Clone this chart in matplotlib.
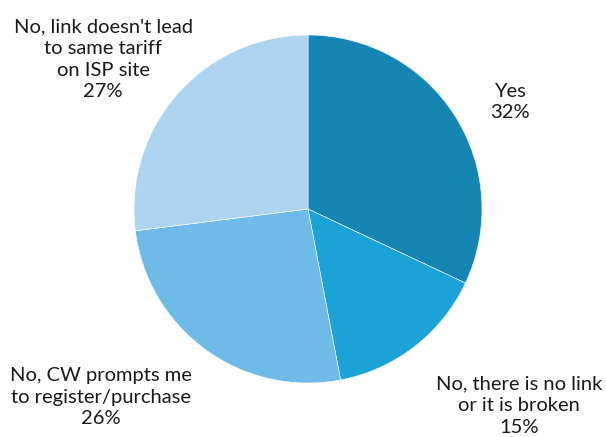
import matplotlib
matplotlib.use("Agg")
import matplotlib.pyplot as plt

# Survey answers, clockwise from the top
categories = [
    "Yes",
    "No, there is no link\nor it is broken",
    "No, CW prompts me\nto register/purchase",
    "No, link doesn't lead\nto same tariff\non ISP site",
]
shares = [32, 15, 26, 27]
colors = ["#1586b4", "#1ba3d8", "#6dbbe6", "#aed5ef"]

# label anchor points in pie units (radius = 1)
label_pos = [(1.161, 0.615), (1.215, -1.130), (-1.19, -1.083), (-1.178, 0.859)]

plt.rcParams["font.family"] = ["Lato", "DejaVu Sans"]

fig = plt.figure(figsize=(6.06, 4.37), dpi=100)
W, H = 606, 437
cx, cy, r = 308, 209, 174
ax = fig.add_axes([(cx - r) / W, (H - cy - r) / H, 2 * r / W, 2 * r / H])

ax.pie(shares, colors=colors, startangle=90, counterclock=False, radius=1,
       wedgeprops=dict(edgecolor="white", linewidth=0.4))
ax.set_xlim(-1, 1)
ax.set_ylim(-1, 1)
ax.set_aspect("equal")
ax.axis("off")

for cat, val, (x, y) in zip(categories, shares, label_pos):
    ax.text(x, y, f"{cat}\n{val}%", ha="center", va="center", fontsize=14.5,
            color="#1a1a1a", linespacing=1.32, clip_on=False)

fig.savefig("out.png", dpi=100)
